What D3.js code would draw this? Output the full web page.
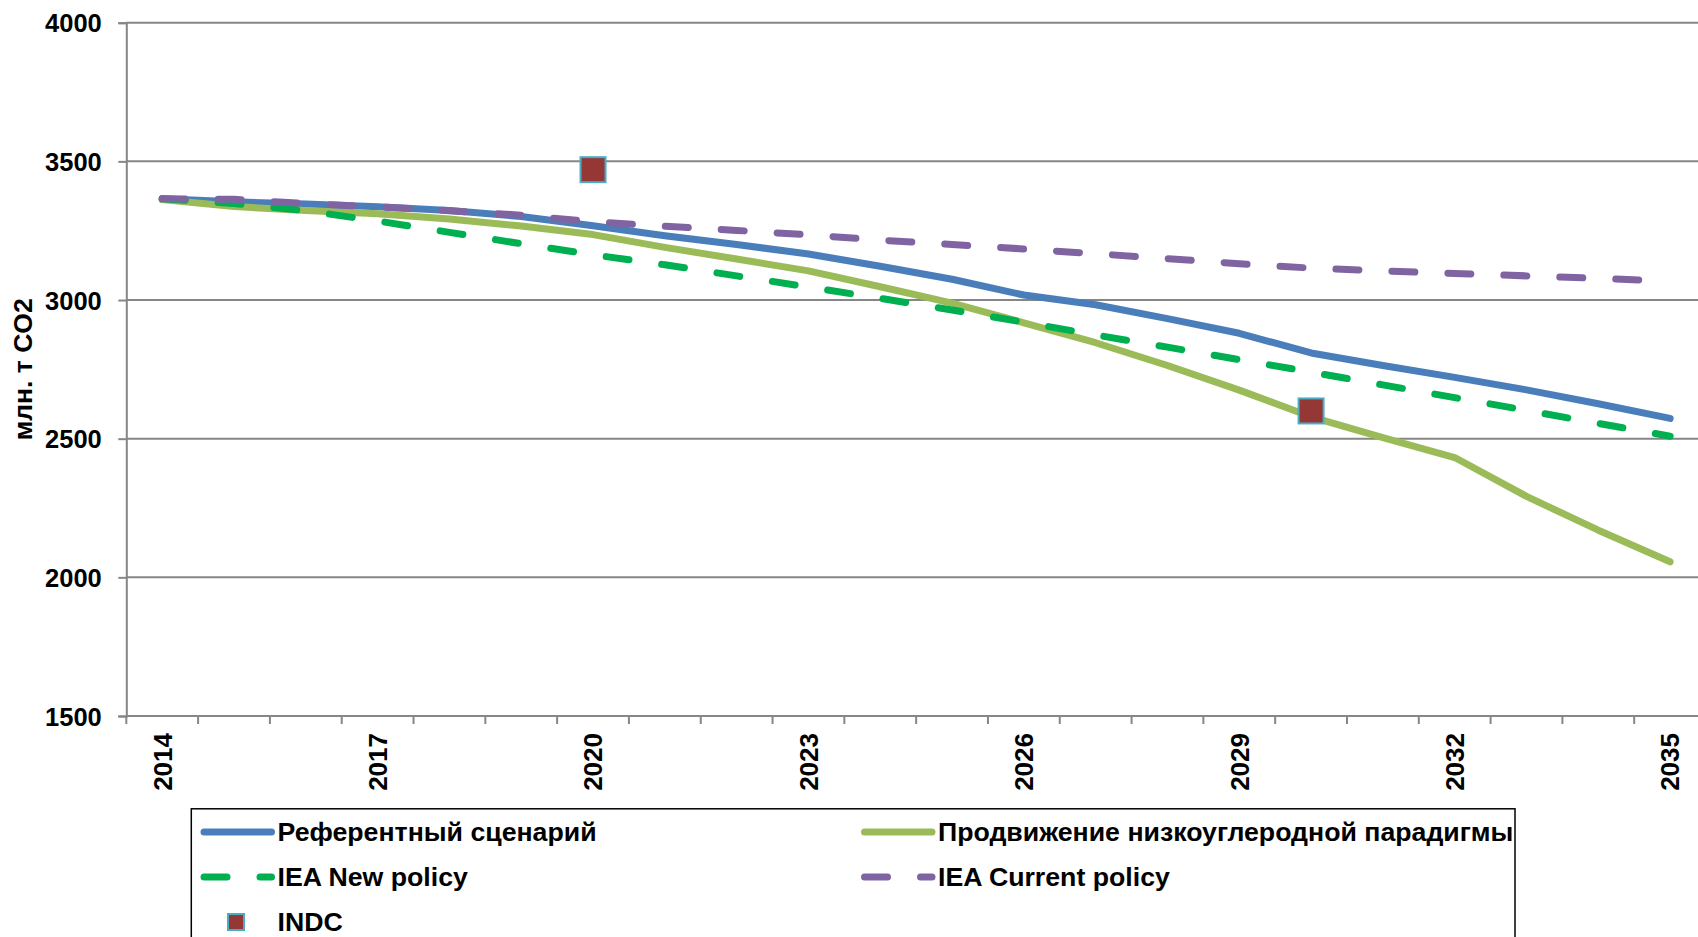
<!DOCTYPE html>
<html>
<head>
<meta charset="utf-8">
<script src="https://d3js.org/d3.v7.min.js"></script>
<style>
    body { margin: 0; background: #fff; }
    text { font-family: "Liberation Sans", Arial, sans-serif; font-weight: bold; fill: #000; }
</style>
</head>
<body>
<div id="chart"></div>
<script>
// data
var years = [2014, 2015, 2016, 2017, 2018, 2019, 2020, 2021, 2022, 2023, 2024,
             2025, 2026, 2027, 2028, 2029, 2030, 2031, 2032, 2033, 2034, 2035];
var yearLabels = [2014, 2017, 2020, 2023, 2026, 2029, 2032, 2035];
var yTicks = [1500, 2000, 2500, 3000, 3500, 4000];

var referenceValues = [3365, 3354, 3346, 3336, 3323, 3301, 3268, 3232, 3200, 3166, 3122,
                       3075, 3018, 2983, 2933, 2880, 2809, 2764, 2721, 2676, 2626, 2573];
var lowCarbonValues = [3362, 3337, 3323, 3311, 3292, 3267, 3236, 3190, 3148, 3105, 3048,
                       2989, 2918, 2846, 2764, 2675, 2579, 2504, 2432, 2292, 2170, 2056];
var ieaNewValues = [3365, 3348, 3322, 3285, 3244, 3203, 3163, 3127, 3087, 3047, 3006,
                    2964, 2920, 2874, 2830, 2785, 2740, 2694, 2648, 2602, 2555, 2509];
var ieaCurrentValues = [3365, 3363, 3348, 3336, 3322, 3306, 3282, 3266, 3251, 3235, 3216,
                        3200, 3184, 3167, 3149, 3131, 3115, 3105, 3096, 3087, 3078, 3068];
var indcYears = [2020, 2030];
var indcValues = [3470, 2600];

var seriesNames = ["Референтный сценарий", "Продвижение низкоуглеродной парадигмы",
                   "IEA New policy", "IEA Current policy", "INDC"];

var svgWidth = 1698;
var svgHeight = 937;

var svg = d3.select("#chart")
    .append("svg")
    .attr("width", svgWidth)
    .attr("height", svgHeight);

// scales (plot runs past the right edge like the original)
var xScale = d3.scaleBand()
    .domain(years)
    .range([126.3, 1706]);

var yScale = d3.scaleLinear()
    .domain([1500, 4000])
    .range([716, 22.7]);

var cx = d => xScale(d) + xScale.bandwidth() / 2;

// gridlines
svg.append("g")
    .selectAll("line")
    .data(yTicks.slice(1))
    .enter()
    .append("line")
    .attr("x1", 126.3)
    .attr("x2", svgWidth)
    .attr("y1", d => yScale(d))
    .attr("y2", d => yScale(d))
    .attr("stroke", "#868686")
    .attr("stroke-width", 2);

// y axis
var yAxis = d3.axisLeft(yScale)
    .tickValues(yTicks)
    .tickSize(8)
    .tickPadding(16.5)
    .tickFormat(d3.format("d"));

svg.append("g")
    .attr("transform", "translate(126.3,0)")
    .call(yAxis)
    .call(g => g.select(".domain").attr("stroke", "#868686").attr("stroke-width", 2))
    .call(g => g.selectAll(".tick line").attr("stroke", "#868686").attr("stroke-width", 2))
    .call(g => g.selectAll(".tick text")
        .attr("font-size", "25.5px")
        .attr("dy", "0.36em")
        .attr("fill", "#000"));

// x axis line and ticks between categories
svg.append("line")
    .attr("x1", 126.3)
    .attr("x2", svgWidth)
    .attr("y1", yScale(1500))
    .attr("y2", yScale(1500))
    .attr("stroke", "#868686")
    .attr("stroke-width", 2);

svg.append("g")
    .selectAll("line")
    .data(years)
    .enter()
    .append("line")
    .attr("x1", d => xScale(d))
    .attr("x2", d => xScale(d))
    .attr("y1", yScale(1500))
    .attr("y2", yScale(1500) + 8)
    .attr("stroke", "#868686")
    .attr("stroke-width", 2);

svg.append("g")
    .selectAll("text")
    .data(yearLabels)
    .enter()
    .append("text")
    .attr("transform", d => `translate(${cx(d)}, 733) rotate(-90)`)
    .attr("text-anchor", "end")
    .attr("dy", "0.36em")
    .attr("font-size", "26px")
    .text(d => d);

// y axis title
svg.append("text")
    .attr("transform", `translate(22, ${(yScale(1500) + yScale(4000)) / 2}) rotate(-90)`)
    .attr("text-anchor", "middle")
    .attr("dy", "0.36em")
    .attr("font-size", "26.5px")
    .text("млн. т CO2");

// lines
var line = d3.line()
    .x(d => cx(d.year))
    .y(d => yScale(d.value));

function toPoints(values) {
    return years.map((y, i) => ({ year: y, value: values[i] }));
}

var series = [
    { values: referenceValues, color: "#4A7EBB", dash: null },
    { values: lowCarbonValues, color: "#9BBB59", dash: null },
    { values: ieaNewValues, color: "#00B050", dash: "23,33" },
    { values: ieaCurrentValues, color: "#8064A2", dash: "23,33" }
];

series.forEach(function(s) {
    svg.append("path")
        .datum(toPoints(s.values))
        .attr("d", line)
        .attr("fill", "none")
        .attr("stroke", s.color)
        .attr("stroke-width", 7)
        .attr("stroke-linecap", "round")
        .attr("stroke-linejoin", "round")
        .attr("stroke-dasharray", s.dash);
});

// INDC markers
svg.append("g")
    .selectAll("rect")
    .data(indcYears.map((y, i) => ({ year: y, value: indcValues[i] })))
    .enter()
    .append("rect")
    .attr("x", d => cx(d.year) - 12.5)
    .attr("y", d => yScale(d.value) - 12.5)
    .attr("width", 25)
    .attr("height", 25)
    .attr("fill", "#953735")
    .attr("stroke", "#4BACC6")
    .attr("stroke-width", 2);

// legend
var legend = svg.append("g");

legend.append("rect")
    .attr("x", 191.3)
    .attr("y", 808.8)
    .attr("width", 1515 - 191.3)
    .attr("height", 160)
    .attr("fill", "#fff")
    .attr("stroke", "#000")
    .attr("stroke-width", 1.5);

var legendItems = [
    { x: 204, y: 832, color: "#4A7EBB", dash: null, name: seriesNames[0] },
    { x: 864.5, y: 832, color: "#9BBB59", dash: null, name: seriesNames[1] },
    { x: 204, y: 877, color: "#00B050", dash: "23,33", name: seriesNames[2] },
    { x: 864.5, y: 877, color: "#8064A2", dash: "23,33", name: seriesNames[3] }
];

legendItems.forEach(function(d) {
    legend.append("line")
        .attr("x1", d.x)
        .attr("x2", d.x + 67.5)
        .attr("y1", d.y)
        .attr("y2", d.y)
        .attr("stroke", d.color)
        .attr("stroke-width", 7)
        .attr("stroke-linecap", "round")
        .attr("stroke-dasharray", d.dash);
    legend.append("text")
        .attr("x", d.x + 73.5)
        .attr("y", d.y + 9)
        .attr("font-size", "26.7px")
        .text(d.name);
});

legend.append("rect")
    .attr("x", 228)
    .attr("y", 914)
    .attr("width", 16)
    .attr("height", 16)
    .attr("fill", "#953735")
    .attr("stroke", "#4BACC6")
    .attr("stroke-width", 2);

legend.append("text")
    .attr("x", 277.5)
    .attr("y", 931)
    .attr("font-size", "26.7px")
    .text(seriesNames[4]);
</script>
</body>
</html>
